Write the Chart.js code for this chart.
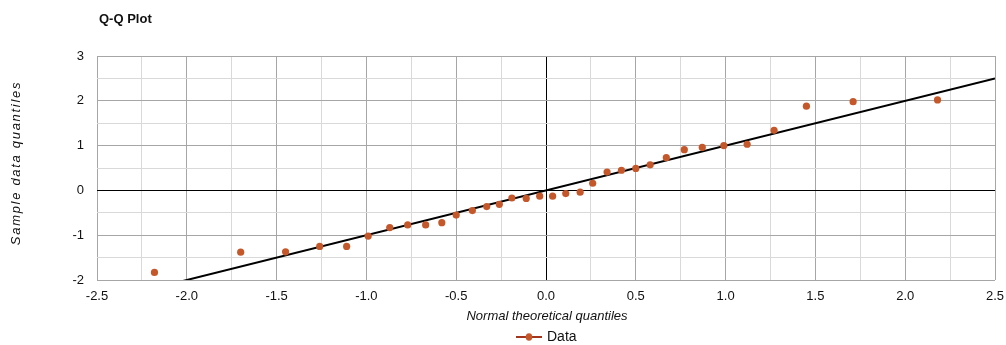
<!DOCTYPE html>
<html>
<head>
<meta charset="utf-8">
<script src="https://cdn.jsdelivr.net/npm/chart.js@4"></script>
<style>
  html, body { margin: 0; padding: 0; background: #fff; }
  #wrap { width: 1006px; height: 345px; position: relative; }
</style>
</head>
<body>
<div id="wrap"><canvas id="c" width="1006" height="345"></canvas></div>
<script>
// ---- data ----
const chartTitle = "Q-Q Plot";
const xAxisTitle = "Normal theoretical quantiles";
const yAxisTitle = "Sample data quantiles";
const seriesName = "Data";
const theoreticalQuantiles = [-2.18, -1.70, -1.45, -1.26, -1.11, -0.99, -0.87, -0.77, -0.67, -0.58,
  -0.50, -0.41, -0.33, -0.26, -0.19, -0.11, -0.035, 0.037, 0.11, 0.19,
  0.26, 0.34, 0.42, 0.50, 0.58, 0.67, 0.77, 0.87, 0.99, 1.12,
  1.27, 1.45, 1.71, 2.18];
const sampleQuantiles = [-1.83, -1.38, -1.37, -1.25, -1.25, -1.02, -0.83, -0.77, -0.77, -0.72,
  -0.55, -0.45, -0.36, -0.31, -0.17, -0.18, -0.13, -0.13, -0.07, -0.04,
  0.16, 0.41, 0.45, 0.49, 0.57, 0.73, 0.91, 0.96, 1.00, 1.03,
  1.34, 1.88, 1.98, 2.02];
const refLineX = [-2.5, 2.5];
const refLineY = [-2.5, 2.5];
const xMin = -2.5, xMax = 2.5, xStep = 0.25, xLabelStep = 0.5;
const yMin = -2, yMax = 3, yStep = 0.5, yLabelStep = 1;

// ---- styles ----
const FONT = "'Liberation Sans', Arial, sans-serif";
const pointColor = '#c5582b';
const legendLineColor = '#a3351c';
const majorGrid = '#a6a6a6';
const minorGrid = '#d9d9d9';

const points = theoreticalQuantiles.map((x, i) => ({ x: x, y: sampleQuantiles[i] }));
const refLine = refLineX.map((x, i) => ({ x: x, y: refLineY[i] }));

function isMultiple(v, step) {
  const r = Math.abs(v / step - Math.round(v / step));
  return r < 1e-6;
}

const decorPlugin = {
  id: 'decor',
  afterDraw(chart) {
    const ctx = chart.ctx;
    const area = chart.chartArea;
    ctx.save();
    ctx.fillStyle = '#111';
    // Title
    ctx.font = 'bold 13px ' + FONT;
    ctx.textAlign = 'left';
    ctx.textBaseline = 'middle';
    ctx.fillText(chartTitle, area.left + 2, 19);

    // X axis title
    ctx.font = 'italic 13px ' + FONT;
    ctx.textAlign = 'center';
    ctx.fillText(xAxisTitle, (area.left + area.right) / 2 + 1, 316);

    // Y axis title
    ctx.save();
    ctx.translate(16, 163);
    ctx.rotate(-Math.PI / 2);
    ctx.font = 'italic 13px ' + FONT;
    if ('letterSpacing' in ctx) ctx.letterSpacing = '1.7px';
    ctx.textAlign = 'center';
    ctx.textBaseline = 'middle';
    ctx.fillText(yAxisTitle, 0, 0);
    ctx.restore();

    // Legend
    const ly = 337;
    ctx.strokeStyle = legendLineColor;
    ctx.lineWidth = 2;
    ctx.beginPath();
    ctx.moveTo(516, ly);
    ctx.lineTo(542, ly);
    ctx.stroke();
    ctx.fillStyle = pointColor;
    ctx.beginPath();
    ctx.ellipse(529, ly, 3.3, 3.8, 0, 0, Math.PI * 2);
    ctx.fill();
    ctx.fillStyle = '#111';
    ctx.font = '14px ' + FONT;
    ctx.textAlign = 'left';
    ctx.textBaseline = 'middle';
    ctx.fillText(seriesName, 547, ly);
    ctx.restore();
  }
};

new Chart(document.getElementById('c'), {
  type: 'scatter',
  data: {
    datasets: [
      {
        label: seriesName,
        data: points,
        backgroundColor: pointColor,
        borderColor: pointColor,
        pointRadius: 3.6,
        pointBorderWidth: 0,
        order: 1
      },
      {
        type: 'line',
        label: 'Reference',
        data: refLine,
        borderColor: '#000',
        borderWidth: 2,
        pointRadius: 0,
        fill: false,
        order: 2
      }
    ]
  },
  options: {
    responsive: false,
    animation: false,
    devicePixelRatio: 1,
    layout: { padding: { top: 56, right: 11, left: 0, bottom: 0 } },
    plugins: {
      legend: { display: false },
      title: { display: false },
      tooltip: { enabled: false }
    },
    scales: {
      x: {
        type: 'linear',
        min: xMin, max: xMax,
        afterFit(scale) { scale.height = 65; scale.paddingLeft = 0; scale.paddingRight = 0; },
        border: { display: false },
        grid: {
          drawTicks: false,
          color(ctx) {
            const v = ctx.tick ? ctx.tick.value : 0;
            if (Math.abs(v) < 1e-9) return '#000';
            return isMultiple(v, xLabelStep) ? majorGrid : minorGrid;
          },
          lineWidth: 1
        },
        ticks: {
          stepSize: xStep,
          padding: 9,
          autoSkip: false,
          maxRotation: 0,
          color: '#111',
          font: { family: FONT, size: 13 },
          callback(v) { return isMultiple(v, xLabelStep) ? Number(v).toFixed(1) : ''; }
        }
      },
      y: {
        type: 'linear',
        min: yMin, max: yMax,
        afterFit(scale) { scale.width = 97; scale.paddingTop = 0; scale.paddingBottom = 0; },
        border: { display: false },
        grid: {
          drawTicks: false,
          color(ctx) {
            const v = ctx.tick ? ctx.tick.value : 0;
            if (Math.abs(v) < 1e-9) return '#000';
            return isMultiple(v, yLabelStep) ? majorGrid : minorGrid;
          },
          lineWidth: 1
        },
        ticks: {
          stepSize: yStep,
          padding: 13,
          autoSkip: false,
          color: '#111',
          font: { family: FONT, size: 13 },
          callback(v) { return isMultiple(v, yLabelStep) ? String(Math.round(v)) : ''; }
        }
      }
    }
  },
  plugins: [decorPlugin]
});
</script>
</body>
</html>
